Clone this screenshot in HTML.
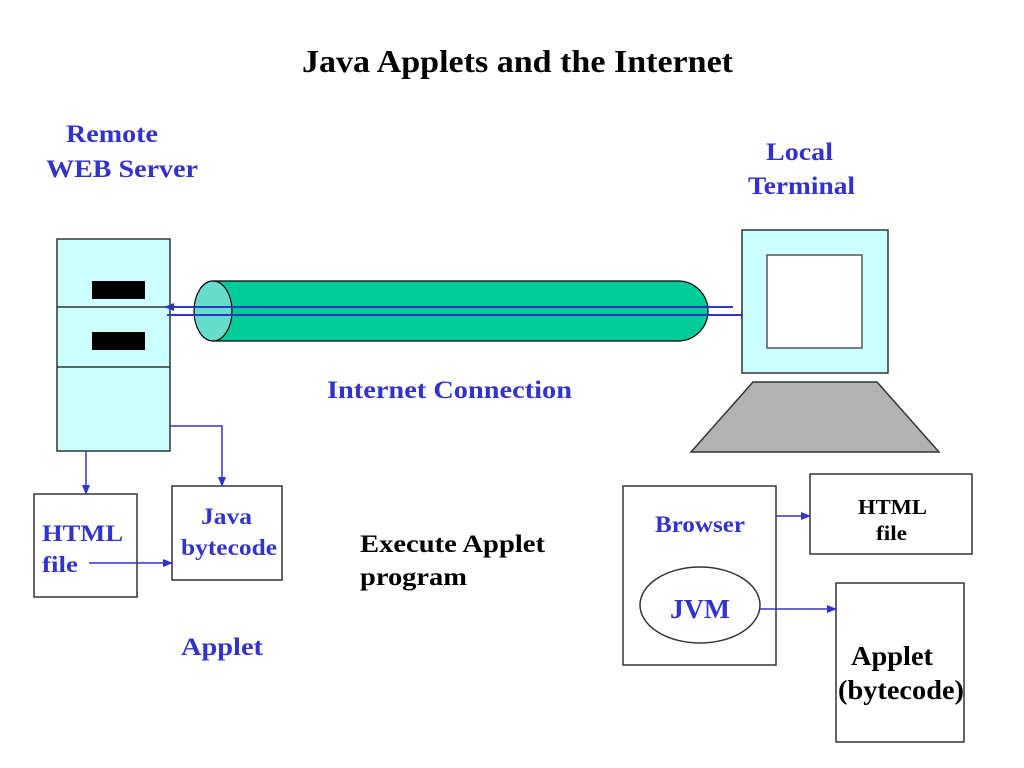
<!DOCTYPE html>
<html><head><style>body{margin:0;background:#fff}svg{display:block}</style></head><body>
<svg width="1024" height="768" xmlns="http://www.w3.org/2000/svg" font-family="'Liberation Serif', serif" font-weight="bold">
<defs><marker id="a" markerWidth="10" markerHeight="8" refX="9" refY="4" orient="auto" markerUnits="userSpaceOnUse"><path d="M0,0L10,4L0,8z" fill="#3333cc"/></marker></defs>
<text x="302" y="72" font-size="32" textLength="431" lengthAdjust="spacingAndGlyphs" fill="#000">Java Applets and the Internet</text>
<g fill="#3333cc" font-size="25" lengthAdjust="spacingAndGlyphs">
<text x="66" y="142" textLength="92" lengthAdjust="spacingAndGlyphs">Remote</text>
<text x="46" y="177" textLength="152" lengthAdjust="spacingAndGlyphs">WEB Server</text>
<text x="766" y="160" textLength="67" lengthAdjust="spacingAndGlyphs">Local</text>
<text x="748" y="194" textLength="107" lengthAdjust="spacingAndGlyphs">Terminal</text>
<text x="327" y="398" textLength="245" lengthAdjust="spacingAndGlyphs">Internet Connection</text>
<text x="181" y="655" textLength="82" lengthAdjust="spacingAndGlyphs">Applet</text>
<text x="42" y="541" font-size="23" textLength="81" lengthAdjust="spacingAndGlyphs">HTML</text>
<text x="42" y="572" font-size="23" textLength="36" lengthAdjust="spacingAndGlyphs">file</text>
<text x="201" y="524" font-size="23" textLength="51" lengthAdjust="spacingAndGlyphs">Java</text>
<text x="181" y="555" font-size="23" textLength="96" lengthAdjust="spacingAndGlyphs">bytecode</text>
<text x="655" y="532" font-size="23" textLength="90" lengthAdjust="spacingAndGlyphs">Browser</text>
<text x="670" y="618" font-size="27" textLength="60" lengthAdjust="spacingAndGlyphs">JVM</text>
</g>
<g fill="#000">
<text x="360" y="552" font-size="25" textLength="185" lengthAdjust="spacingAndGlyphs">Execute Applet</text>
<text x="360" y="585" font-size="25" textLength="107" lengthAdjust="spacingAndGlyphs">program</text>
<text x="858" y="514" font-size="21" textLength="69" lengthAdjust="spacingAndGlyphs">HTML</text>
<text x="876" y="540" font-size="21" textLength="31" lengthAdjust="spacingAndGlyphs">file</text>
<text x="851" y="665" font-size="27" textLength="82" lengthAdjust="spacingAndGlyphs">Applet</text>
<text x="838" y="699" font-size="27" textLength="126" lengthAdjust="spacingAndGlyphs">(bytecode)</text>
</g>
<!-- server -->
<rect x="57" y="239" width="113" height="212" fill="#ccffff" stroke="#333" stroke-width="1.5"/>
<line x1="57" y1="307" x2="170" y2="307" stroke="#333" stroke-width="1.5"/>
<line x1="57" y1="367" x2="170" y2="367" stroke="#333" stroke-width="1.5"/>
<rect x="92" y="281" width="53" height="18" fill="#000"/>
<rect x="92" y="332" width="53" height="18" fill="#000"/>
<!-- cylinder -->
<path d="M213,281 H678 A30,30 0 0 1 678,341 H213 Z" fill="#00cc99" stroke="#000" stroke-width="1.2"/>
<ellipse cx="213" cy="311" rx="19" ry="30" fill="#66ddcc" stroke="#000" stroke-width="1.2"/>
<g stroke="#3333cc" stroke-width="2" fill="none">
<line x1="733" y1="307" x2="165" y2="307" marker-end="url(#a)"/>
<line x1="167" y1="315" x2="750" y2="315" marker-end="url(#a)"/>
</g>
<!-- monitor -->
<rect x="742" y="230" width="146" height="143" fill="#ccffff" stroke="#333" stroke-width="1.5"/>
<rect x="767" y="255" width="95" height="93" fill="#fff" stroke="#555" stroke-width="1.5"/>
<path d="M753,382 H877 L939,452 H691 Z" fill="#b2b2b2" stroke="#333" stroke-width="1.5"/>
<g fill="none" stroke="#333" stroke-width="1.5">
<rect x="34" y="494" width="103" height="103"/>
<rect x="172" y="486" width="110" height="94"/>
<rect x="623" y="486" width="153" height="179"/>
<rect x="810" y="474" width="162" height="80"/>
<rect x="836" y="583" width="128" height="159"/>
<ellipse cx="700" cy="605" rx="60" ry="38"/>
</g>
<g stroke="#3333cc" stroke-width="1.5" fill="none">
<line x1="86" y1="451" x2="86" y2="494" marker-end="url(#a)"/>
<polyline points="170,426 222,426 222,486" marker-end="url(#a)"/>
<line x1="89" y1="563" x2="172" y2="563" marker-end="url(#a)"/>
<line x1="776" y1="516" x2="810" y2="516" marker-end="url(#a)"/>
<line x1="760" y1="609" x2="836" y2="609" marker-end="url(#a)"/>
</g>
</svg>
</body></html>
